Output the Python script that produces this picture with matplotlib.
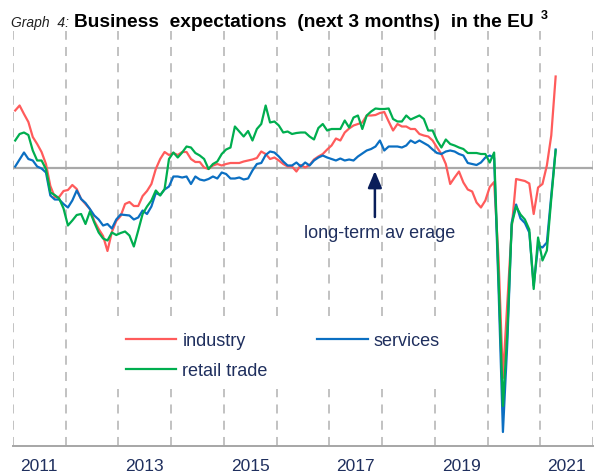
import matplotlib
matplotlib.use("Agg")
import matplotlib.pyplot as plt
from matplotlib import font_manager
from matplotlib.lines import Line2D
import numpy as np

# ---------------- data (monthly, Jan 2011 .. Apr 2021) ----------------
start_year = 2011
industry = [11.5, 12.5, 10.8, 9.2, 6.2, 4.8, 3.2, 0.8, -3.6, -5.8, -5.8, -4.6,
            -4.4, -3.4, -4.2, -6.2, -7.2, -8.2, -10.6, -12.2, -13.6, -16.6, -12.8, -10.6,
            -9.6, -7.2, -6.8, -7.6, -7.6, -5.6, -4.6, -3.2, -0.2, 1.8, 3.2, 2.6,
            3.0, 2.6, 3.2, 3.2, 1.8, 1.2, 1.2, 0.1, -0.2, 0.5, 0.8, 0.5,
            0.8, 1.0, 1.0, 1.0, 1.3, 1.5, 1.7, 2.0, 3.3, 2.8, 1.8, 2.1,
            1.5, 0.8, 0.3, 0.3, -0.7, 0.6, 0.1, 0.6, 1.7, 2.3, 2.8, 3.7,
            4.5, 5.9, 5.5, 7.1, 7.9, 8.5, 8.8, 9.1, 10.5, 10.5, 10.6, 11.0,
            11.2, 9.3, 7.5, 8.8, 8.3, 8.3, 7.8, 7.8, 6.8, 6.5, 6.3, 5.5,
            4.1, 2.8, 0.8, -3.2, -1.9, -0.7, -2.9, -4.3, -4.7, -6.9, -7.9, -6.5,
            -3.8, -2.8, -18.0, -42.0, -27.0, -12.0, -2.2, -2.4, -2.6, -3.1, -9.2, -3.9,
            -3.2, 0.5, 6.5, 18.3]
services = [0.3, 1.7, 3.1, 1.8, 1.5, 0.3, -0.1, -0.9, -5.5, -6.3, -6.3, -7.2,
            -7.9, -6.5, -4.5, -6.2, -7.0, -8.2, -9.5, -10.3, -11.5, -11.2, -12.1, -10.3,
            -9.3, -9.4, -9.5, -10.3, -9.9, -8.5, -9.2, -7.7, -5.0, -5.4, -4.3, -3.7,
            -1.7, -1.7, -1.9, -1.7, -3.2, -1.7, -2.3, -2.5, -2.2, -1.7, -2.1, -0.9,
            -1.2, -2.1, -2.1, -1.9, -2.3, -2.1, -0.5, 0.8, 1.0, 2.6, 3.3, 3.1,
            2.3, 1.3, 0.5, 0.5, 1.1, 0.3, 1.1, 0.5, 1.5, 2.1, 2.5, 2.1,
            1.8, 1.5, 1.9, 1.5, 1.7, 1.5, 2.3, 2.9, 3.5, 3.8, 4.3, 5.5,
            3.5, 4.3, 4.3, 4.3, 4.1, 4.5, 5.5, 5.0, 5.5, 5.0, 4.5, 3.7,
            3.0, 2.8, 3.3, 3.5, 3.3, 2.8, 2.5, 1.0, 0.8, 0.6, 1.1, 2.1,
            2.5, 2.0, -24.0, -52.8, -35.0, -10.9, -7.3, -10.1, -11.0, -12.9, -23.5, -15.5,
            -15.9, -14.9, -5.5, 3.7]
retail = [5.5, 6.8, 7.1, 6.6, 3.5, 1.5, 1.5, -0.2, -4.9, -5.4, -6.1, -8.1,
          -11.5, -10.5, -9.4, -9.2, -11.2, -8.7, -10.9, -12.9, -14.1, -14.5, -12.9, -13.4,
          -13.0, -12.7, -13.5, -15.7, -12.5, -9.2, -7.7, -6.5, -4.5, -5.5, -4.2, 1.8,
          3.1, 2.1, 3.1, 4.3, 4.1, 3.0, 2.5, 1.8, -0.2, 0.8, 1.3, 2.8,
          3.7, 4.1, 8.3, 7.3, 6.3, 7.4, 5.5, 7.8, 8.8, 12.5, 9.1, 9.3,
          8.5, 7.1, 7.3, 6.8, 7.0, 7.1, 7.1, 6.3, 5.7, 8.0, 8.8, 7.5,
          7.8, 7.8, 7.8, 9.5, 8.1, 10.1, 10.5, 7.8, 10.5, 11.3, 11.9, 11.8,
          11.8, 11.9, 9.8, 9.3, 9.3, 10.5, 9.7, 10.1, 10.5, 9.8, 7.5, 7.5,
          5.5, 4.1, 5.7, 4.8, 4.5, 4.1, 3.8, 3.0, 3.0, 3.0, 2.8, 2.8,
          1.1, 3.1, -22.0, -47.6, -33.0, -11.3, -7.7, -9.3, -10.3, -12.3, -24.2, -13.9,
          -18.5, -16.5, -6.2, 3.5]
series_labels = ["industry", "services", "retail trade"]
year_labels = ["2011", "2013", "2015", "2017", "2019", "2021"]
title_prefix = "Graph  4:"
title_main = "Business  expectations  (next 3 months)  in the EU"
annotation = "long-term av erage"

# ---------------- fonts ----------------
def pick(fams):
    for f in fams:
        try:
            font_manager.findfont(font_manager.FontProperties(family=f), fallback_to_default=False)
            return f
        except Exception:
            continue
    return "DejaVu Sans"

narrow = pick(["Liberation Sans Narrow", "Arial Narrow", "Liberation Sans", "Arial"])
plt.rcParams["font.family"] = [narrow, "DejaVu Sans"]

navy = "#1F2F5E"
c_ind, c_srv, c_ret = "#FF5B5B", "#0B6FC2", "#00AE4F"

W, H = 594, 477
fig = plt.figure(figsize=(W / 100, H / 100), dpi=100)
ax = fig.add_axes([13 / W, 30 / H, 580 / W, 415 / H])

n = len(industry)
x = start_year + (np.arange(n) + 0.5) / 12.0

ax.plot(x, industry, color=c_ind, lw=1.6, zorder=3)
ax.plot(x, services, color=c_srv, lw=1.6, zorder=3.1)
ax.plot(x, retail, color=c_ret, lw=1.6, zorder=3.2)

ax.axhline(0, color="#A9A9A9", lw=1.6, zorder=2)

ax.set_xlim(2011, 2022)
ax.set_ylim(-55.6, 27.4)
ax.set_xticks(np.arange(2011, 2023))
ax.set_xticklabels([])
ax.set_xticks([int(y) + 0.5 for y in year_labels], minor=True)
ax.set_xticklabels(year_labels, minor=True, fontsize=12.5, color=navy)
ax.tick_params(axis="x", which="both", length=0, pad=9)
ax.set_yticks([])
ax.grid(axis="x", which="major", color="#BDBDBD", lw=1.3, ls=(0, (5, 4)), zorder=1)
for s in ["top", "left", "right"]:
    ax.spines[s].set_visible(False)
ax.spines["bottom"].set_color("#A6A6A6")
ax.spines["bottom"].set_linewidth(1.4)
ax.patch.set_visible(False)

# legend
handles = [Line2D([], [], color=c_ind, lw=1.6), Line2D([], [], color=c_ret, lw=1.6),
           Line2D([], [], color=c_srv, lw=1.6)]
labels = [series_labels[0], series_labels[2], series_labels[1]]
leg = ax.legend(handles, labels, ncol=2, loc="upper left",
                bbox_to_anchor=(116 / W, 1 - 323 / H), bbox_transform=fig.transFigure,
                fontsize=13, frameon=True, fancybox=False, edgecolor="none",
                facecolor="white", framealpha=1, handlelength=2.8, handletextpad=0.32,
                columnspacing=2.75, labelspacing=0.75, borderpad=0.55, borderaxespad=0)
for t in leg.get_texts():
    t.set_color(navy)
leg.set_zorder(2.5)

# annotation
xa = 2017.0 + (376 - 330.5) / 52.7
ax.annotate("", xy=(xa, -0.6), xytext=(xa, -9.8),
            arrowprops=dict(arrowstyle="-|>,head_width=0.42,head_length=1.0", color="#0A1E5A",
                            lw=1.8, shrinkA=0, shrinkB=0), zorder=4)
fig.text(380 / W, 1 - 234 / H, annotation, ha="center", va="center",
         fontsize=13, color=navy)

# title
fig.text(11 / W, 1 - 27 / H, title_prefix, ha="left", va="baseline", fontsize=10,
         style="italic", color="#202020")
fig.text(74 / W, 1 - 27 / H, title_main, ha="left", va="baseline", fontsize=13.8,
         weight="bold", color="#000000")
fig.text(541 / W, 1 - 19 / H, "3", ha="left", va="baseline", fontsize=9,
         weight="bold", color="#000000")

fig.savefig("out.png", dpi=100)
